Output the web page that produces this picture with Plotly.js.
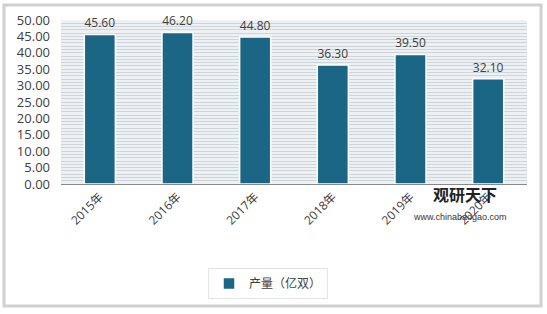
<!DOCTYPE html>
<html><head><meta charset="utf-8">
<script src="https://cdn.plot.ly/plotly-3.0.1.min.js"></script>
<style>html,body{margin:0;padding:0;background:#fff}#c{width:547px;height:314px}</style>
</head><body><div id="c"></div>
<script>
const categories = ['2015年','2016年','2017年','2018年','2019年','2020年'];
const production = [45.60, 46.20, 44.80, 36.30, 39.50, 32.10];
const seriesName = '产量（亿双）';
const yTicks = [0,5,10,15,20,25,30,35,40,45,50];

const font = '"Open Sans", "Noto Sans CJK SC", sans-serif';
const trace = {
  type: 'bar', x: categories, y: production, name: seriesName,
  marker: {color: '#1b6585', line: {color: '#ffffff', width: 1.5}},
  width: 0.4,
  text: production.map(v => v.toFixed(2)), textposition: 'outside',
  textfont: {size: 12, color: '#404040', family: font},
  cliponaxis: false, hoverinfo: 'none'
};
const pw = 466, ph = 164;
const px = v => (v - 61) / pw, py = v => (184 - v) / ph;
const layout = {
  width: 547, height: 314,
  margin: {l: 61, r: 20, t: 20, b: 130},
  paper_bgcolor: '#ffffff', plot_bgcolor: '#eef1f3',
  font: {family: font, color: '#404040', size: 12},
  showlegend: true,
  legend: {orientation: 'h', x: px(208), y: py(268), xanchor: 'left', yanchor: 'top',
           itemwidth: 30, bgcolor: '#ffffff', bordercolor: '#e4e4e4', borderwidth: 1,
           font: {size: 12, color: '#404040'}},
  bargap: 0.6,
  xaxis: {tickangle: -45, showline: true, linecolor: '#888', linewidth: 1, ticks: '',
          tickfont: {size: 12, color: '#404040'}, showgrid: false},
  yaxis: {range: [0, 50], tickvals: yTicks, ticktext: yTicks.map(v => v.toFixed(2)),
          showgrid: false, zeroline: false, ticks: '', ticklabelstandoff: 10,
          tickfont: {size: 13, color: '#404040'},
          minor: {dtick: 1, showgrid: true, gridcolor: '#cdd5da', gridwidth: 1}},
  shapes: [
    {type: 'rect', xref: 'paper', yref: 'paper', x0: px(4), x1: px(541), y0: py(306), y1: py(5),
     line: {color: '#d0d0d0', width: 3}, fillcolor: 'rgba(0,0,0,0)', layer: 'below'}
  ],
  annotations: [
    {xref: 'paper', yref: 'paper', x: px(465), y: py(208), text: '<b>观研天下</b>', showarrow: false,
     font: {size: 16, color: '#222', family: '"Noto Sans CJK SC", sans-serif'}, xanchor: 'center'},
    {xref: 'paper', yref: 'paper', x: px(460), y: py(224), text: 'www.chinabaogao.com', showarrow: false,
     font: {size: 9, color: '#333', family: 'Arial, "Liberation Sans", sans-serif'}, xanchor: 'center'}
  ]
};
Plotly.newPlot('c', [trace], layout, {displayModeBar: false, staticPlot: true});
</script></body></html>
